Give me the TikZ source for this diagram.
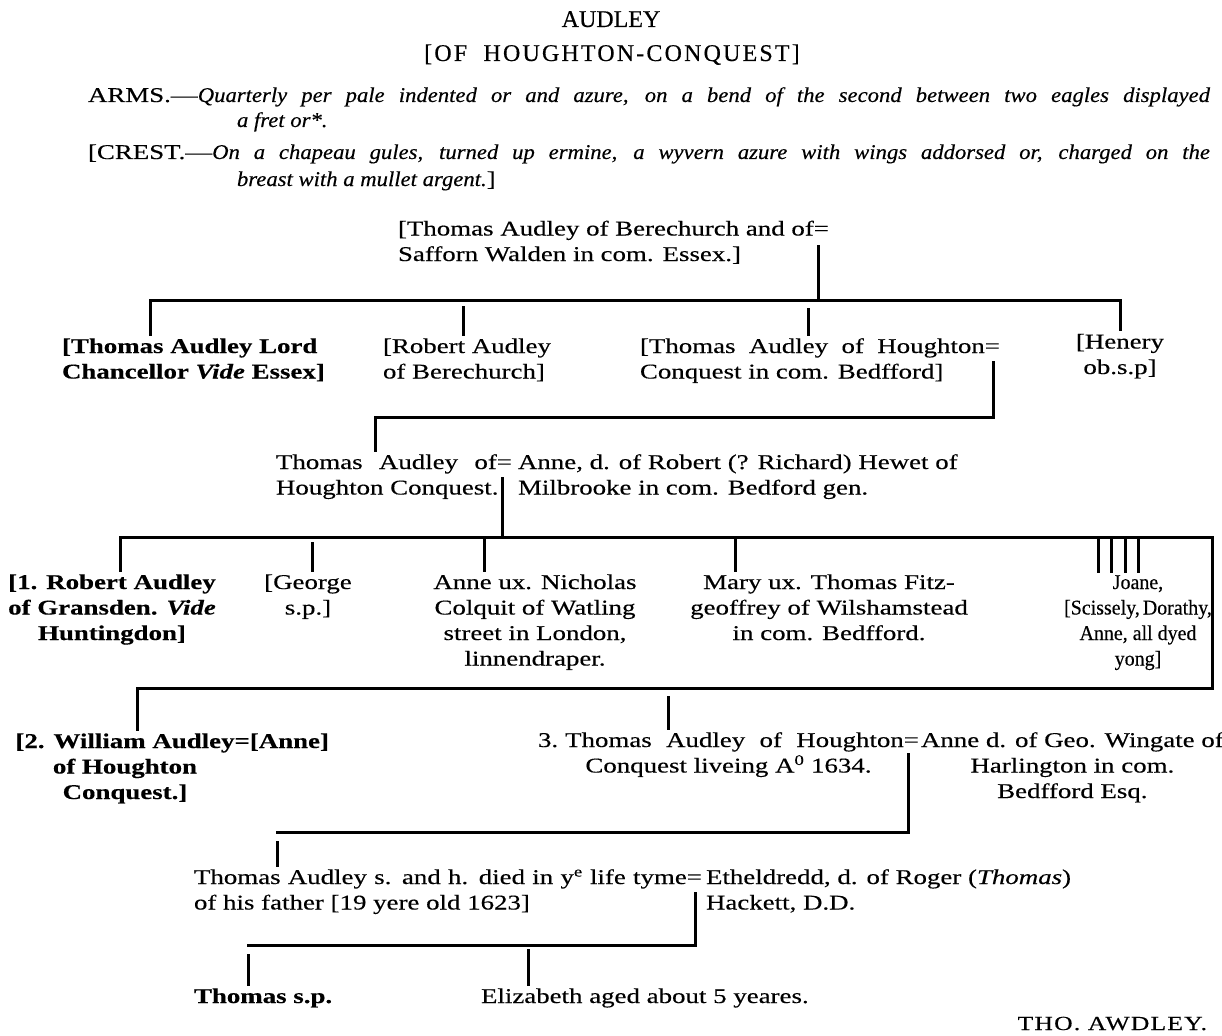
\documentclass[tikz,border=0pt]{standalone}
\usepackage{fontspec}
\usepackage{graphicx}
\setmainfont{Liberation Serif}[FakeStretch=1.28, FakeBold=0.35]
\newfontfamily\itfont{Liberation Serif}[FakeStretch=1.08, FakeBold=0.35]
\newfontfamily\narrowfont{Liberation Serif}[FakeStretch=0.95, FakeBold=0.35]
\newfontfamily\titlefont{Liberation Serif}[FakeStretch=1.0, FakeBold=0.35]
\begin{document}
\begin{tikzpicture}[x=1pt,y=-1pt,
  txt/.style={inner sep=0pt, outer xsep=0pt, outer ysep=4pt, font=\fontsize{21}{25.5}\selectfont, align=left, anchor=base west},
  ctxt/.style={txt, align=center, anchor=base},
  ln/.style={line width=3pt, line cap=rect, line join=miter}]
\useasboundingbox (0,0) rectangle (1222,1035);

% heading
\node[ctxt, font=\titlefont\fontsize{24}{25}\selectfont] (title) at (611,27) {AUDLEY};
\node[ctxt, font=\titlefont\fontsize{24}{25}\selectfont\addfontfeature{LetterSpace=9}] (subtitle) at (612,61) {[OF\ \ HOUGHTON-CONQUEST]};
\node[txt] (arms1) at (88,102) {\makebox[1122pt][s]{ARMS.—\itfont\itshape Quarterly per pale indented or and azure, on a bend of the second between two eagles displayed}};
\node[txt] (arms2) at (237,127) {\itfont\itshape a fret or*.};
\node[txt] (crest1) at (88,159) {\makebox[1122pt][s]{[CREST.—\itfont\itshape On a chapeau gules, turned up ermine, a wyvern azure with wings addorsed or, charged on the}};
\node[txt] (crest2) at (237,186) {\itfont\itshape breast with a mullet argent.\normalfont]};

% generation 1 (positions give the baseline of the last line)
\node[txt] (tas) at (398,261) {[Thomas Audley of Berechurch and of=\\Safforn Walden in com. Essex.]};
\coordinate (tasEq) at (818,246);
\coordinate (b1J) at (818,300);
\coordinate (b1L) at (150,300);
\coordinate (b1R) at (1120,300);
\draw[ln] (tasEq) -- (b1J);

% generation 2
\node[txt, font=\fontsize{21}{25.5}\selectfont\bfseries] (c1) at (62,378.5) {[Thomas Audley Lord\\Chancellor \textit{Vide} Essex]};
\node[txt] (c2) at (383,378.5) {[Robert Audley\\of Berechurch]};
\node[txt] (c3) at (640,378.5) {\makebox[360pt][s]{[Thomas Audley of Houghton=}\\Conquest in com. Bedfford]};
\node[ctxt] (c4) at (1120,374) {[Henery\\ob.s.p]};
\coordinate (d2) at (463,307);
\coordinate (d3) at (808,309);
\draw[ln] (c1.north -| b1L) -- (b1L) -- (b1R) -- (c4.north -| b1R);
\draw[ln] (d2) -- (c2.north -| d2);
\draw[ln] (d3) -- (c3.north -| d3);

\coordinate (c3Eq) at (993,362);
\coordinate (c3J) at (993,417);
\coordinate (c3L) at (375,417);

% generation 3
\node[txt] (h3) at (276,494.5) {\makebox[236pt][s]{Thomas Audley of=}\\Houghton Conquest.};
\node[txt] (w3) at (518,494.5) {Anne, d. of Robert (? Richard) Hewet of\\Milbrooke in com. Bedford gen.};
\draw[ln] (c3Eq) -- (c3J) -- (c3L) -- (h3.north -| c3L);

\coordinate (g3Eq) at (502,478);
\coordinate (b2J) at (502,537);
\coordinate (b2L) at (120,537);
\coordinate (b2R) at (1212,537);
\coordinate (b3R) at (1212,688);
\coordinate (b3L) at (137,688);
\draw[ln] (g3Eq) -- (b2J);

% generation 4
\node[ctxt, font=\fontsize{21}{25.5}\selectfont\bfseries] (k1) at (112,640) {[1. Robert Audley\\of Gransden. \textit{Vide}\\Huntingdon]};
\node[ctxt] (k2) at (308,614.5) {[George\\s.p.]};
\node[ctxt] (k3) at (535,665.5) {Anne ux. Nicholas\\Colquit of Watling\\street in London,\\linnendraper.};
\node[ctxt] (k4) at (829,640) {Mary ux. Thomas Fitz-\\geoffrey of Wilshamstead\\in com. Bedfford.};
\node[ctxt, font=\narrowfont\fontsize{21}{25.5}\selectfont] (k5) at (1138,665.5) {Joane,\\{}[Scissely,\hspace{3pt}Dorathy,\\Anne, all dyed\\yong]};
\coordinate (e2) at (312,543);
\coordinate (e3) at (484,540);
\coordinate (e4) at (735,540);
\draw[ln] (e2) -- (k2.north -| e2);
\draw[ln] (e3) -- (k3.north -| e3);
\draw[ln] (e4) -- (k4.north -| e4);
\foreach \i/\x in {1/1098,2/1111,3/1125,4/1138}{
  \coordinate (f\i) at (\x,540);
  \draw[ln] (f\i) -- (k5.north -| f\i);
}

% generation 4, sons
\coordinate (row4) at (0,748);
\node[ctxt, font=\fontsize{21}{25.5}\selectfont\bfseries] (m1) at (125,799) {[2. William Audley\\of Houghton\\Conquest.]};
\node[txt, font=\fontsize{21}{25.5}\selectfont\bfseries] (m1w) at (m1.east |- row4) {=[Anne]};
\node[ctxt, anchor=base east] (m2) at (919,772.5) {\makebox[381pt][s]{3.\hspace{7pt}Thomas Audley of Houghton=}\\Conquest liveing A\textsuperscript{0} 1634.};
\node[ctxt, anchor=base west] (m2w) at (921,798) {Anne d. of Geo. Wingate of\\Harlington in com.\\Bedfford Esq.};
\draw[ln] (k1.north -| b2L) -- (b2L) -- (b2R) -- (b3R) -- (b3L) -- (m1.north -| b3L);
\coordinate (g2) at (668,697);
\draw[ln] (g2) -- (m2.north -| g2);

\coordinate (m2Eq) at (908,754);
\coordinate (b4J) at (908,832);
\coordinate (b4L) at (277,832);
\coordinate (h5) at (277,842);

% generation 5
\node[txt] (n1) at (194,909.5) {\makebox[508pt][s]{Thomas Audley s. and h. died in y\textsuperscript{e} life tyme=}\\of his father [19 yere old 1623]};
\node[txt] (n1w) at (706,909.5) {Etheldredd, d. of Roger (\textit{Thomas})\\Hackett, D.D.};
\draw[ln] (m2Eq) -- (b4J) -- (b4L);
\draw[ln] (h5) -- (n1.north -| h5);

\coordinate (n1Eq) at (695,893);
\coordinate (b5J) at (695,945);
\coordinate (b5L) at (248,945);
\coordinate (p1) at (248,955);
\coordinate (p2) at (528,950);
\draw[ln] (n1Eq) -- (b5J) -- (b5L);

% generation 6
\node[txt, font=\fontsize{21}{25.5}\selectfont\bfseries] (o1) at (194,1003) {Thomas s.p.};
\node[txt] (o2) at (481,1003) {Elizabeth aged about 5 yeares.};
\draw[ln] (p1) -- (o1.north -| p1);
\draw[ln] (p2) -- (o2.north -| p2);

\node[txt, anchor=base east, font=\fontsize{20}{25}\selectfont\addfontfeature{LetterSpace=6}] (sig) at (1207,1030) {THO. AWDLEY.};
\end{tikzpicture}
\end{document}
